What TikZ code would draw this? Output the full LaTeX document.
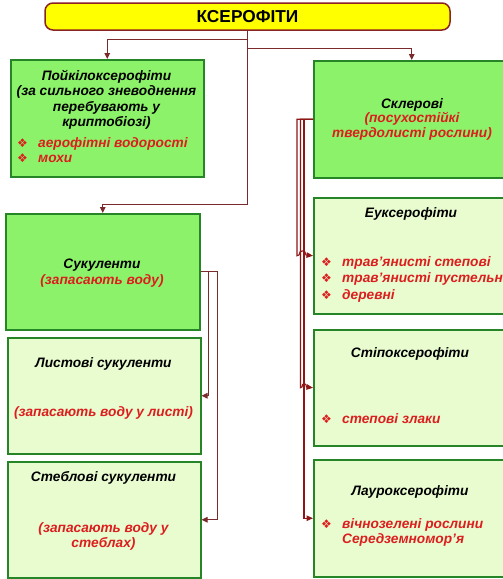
\documentclass[tikz,border=0pt]{standalone}
\usepackage{fontspec}
\setmainfont{Liberation Sans}
\newfontfamily\symfont{DejaVu Sans}
\usetikzlibrary{arrows.meta}

\definecolor{linkbrown}{HTML}{7A2A2A}
\definecolor{linkred}{HTML}{8E1616}
\definecolor{boxedge}{HTML}{268526}
\definecolor{fillbright}{HTML}{8CF26A}
\definecolor{filllight}{HTML}{E9FCD0}
\definecolor{textred}{HTML}{DC1E1E}
\definecolor{titleyellow}{HTML}{FFFF00}
\definecolor{titleedge}{HTML}{8B2323}

\newcommand\itembullet{{\symfont\fontsize{12}{12}\selectfont\char"2756}}

\tikzset{
  box/.style={draw=boxedge, line width=1.5pt, anchor=north west, inner sep=0pt},
  brightbox/.style={box, fill=fillbright},
  lightbox/.style={box, fill=filllight},
  head/.style={anchor=base, inner sep=0pt,
    font=\fontsize{13.7}{15}\selectfont\bfseries\itshape},
  note/.style={head, text=textred},
  listitem/.style={anchor=base west, inner sep=0pt, text=textred,
    font=\fontsize{13.7}{15}\selectfont\bfseries\itshape},
  link/.style={draw=linkbrown, line width=1pt,
    -{Triangle[length=6pt,width=5.5pt]}},
  linkr/.style={draw=linkred, line width=1.1pt,
    -{Triangle[length=6.5pt,width=5.5pt]}},
}

\begin{document}
\begin{tikzpicture}[x=1pt,y=-1pt]
\clip (0,0) rectangle (503,579);
\fill[white] (0,0) rectangle (503,579);

% title bar
\node[draw=titleedge, fill=titleyellow, line width=1.5pt, rounded corners=8pt,
  minimum width=405pt, minimum height=27pt, inner sep=0pt,
  font=\fontsize{17.3}{18}\selectfont\bfseries] (title) at (247.5,16.5) {КСЕРОФІТИ};

% boxes
\node[brightbox, minimum width=193pt, minimum height=117pt] (poik) at (10,59) {};
\node[brightbox, minimum width=196pt, minimum height=117pt] (sklero) at (313,60) {};
\node[brightbox, minimum width=194pt, minimum height=116pt] (suk) at (5,213) {};
\node[lightbox, minimum width=193pt, minimum height=116pt] (lyst) at (7,337) {};
\node[lightbox, minimum width=193pt, minimum height=116pt] (stebl) at (7,461) {};
\node[lightbox, minimum width=196pt, minimum height=116pt] (euk) at (313,197) {};
\node[lightbox, minimum width=196pt, minimum height=116pt] (stipo) at (313,329) {};
\node[lightbox, minimum width=196pt, minimum height=117pt] (lauro) at (313,459) {};

% texts of the left column
\node[head] (poikA) at (106.5,80) {Пойкілоксерофіти};
\node[head] (poikB) at (106.5,95.5) {(за сильного зневоднення};
\node[head] (poikC) at (106.5,111) {перебувають у};
\node[head] (poikD) at (106.5,126.5) {криптобіозі)};
\node[listitem] (poikE) at (17,147) {\makebox[21pt][l]{\itembullet}аерофітні водорості};
\node[listitem] (poikF) at (17,162.5) {\makebox[21pt][l]{\itembullet}мохи};

\node[head] (sukA) at (102,268) {Сукуленти};
\node[note] (sukB) at (102,284) {(запасають воду)};

\node[head] (lystA) at (103.5,367) {Листові сукуленти};
\node[note] (lystB) at (103.5,416) {(запасають воду у листі)};

\node[head] (steblA) at (103.5,481) {Стеблові сукуленти};
\node[note] (steblB) at (103.5,532.5) {(запасають воду у};
\node[note] (steblC) at (103.5,547.5) {стеблах)};

% texts of the right column
\node[head] (skleroA) at (412,108) {Склерові};
\node[note] (skleroB) at (412,122.5) {(посухостійкі};
\node[note] (skleroC) at (412,137) {твердолисті рослини)};

\node[head] (eukA) at (411,217.5) {Еуксерофіти};
\node[listitem] (eukB) at (321,266) {\makebox[21pt][l]{\itembullet}трав’янисті степові};
\node[listitem] (eukC) at (321,282.5) {\makebox[21pt][l]{\itembullet}трав’янисті пустельні};
\node[listitem] (eukD) at (321,299) {\makebox[21pt][l]{\itembullet}деревні};

\node[head] (stipoA) at (410,357.5) {Стіпоксерофіти};
\node[listitem] (stipoB) at (321,423.5) {\makebox[21pt][l]{\itembullet}степові злаки};

\node[head] (lauroA) at (410,495) {Лауроксерофіти};
\node[listitem] (lauroB) at (321,528.5) {\makebox[21pt][l]{\itembullet}вічнозелені рослини};
\node[listitem] (lauroC) at (321,543.5) {\hspace*{21pt}Середземномор’я};

% connectors from the title
\coordinate (busP) at (0,39);
\coordinate (busK) at (0,48);
\coordinate (busS) at (0,204);
\draw[link] (title.south) -- (title.south |- busS) -| (suk.north);
\draw[link] (title.south |- busP) -| (poik.north);
\draw[link] (title.south |- busK) -| (sklero.north);

% succulent branches
\coordinate (sA) at (208,0);
\coordinate (sB) at (217,0);
\draw[link] (suk.east) -| (sA |- lyst.east) -- (lyst.east);
\draw[link] (suk.east) -| (sB |- stebl.east) -- (stebl.east);

% sclerophyte branches with line hops
\coordinate (kA) at (297,0);
\coordinate (kB) at (300.5,0);
\coordinate (kC) at (304,0);
\draw[linkr] (sklero.west) -| (kA |- euk.west) -- (299,255)
  .. controls (299,249.5) and (306,249.5) .. (306,255) -- (euk.west);
\draw[linkr] (sklero.west) -| (kB |- stipo.west) -- (302,387)
  .. controls (302,382.5) and (306.5,382.5) .. (306.5,387) -- (stipo.west);
\draw[linkr] (sklero.west) -| (kC |- lauro.west) -- (lauro.west);
\end{tikzpicture}
\end{document}
